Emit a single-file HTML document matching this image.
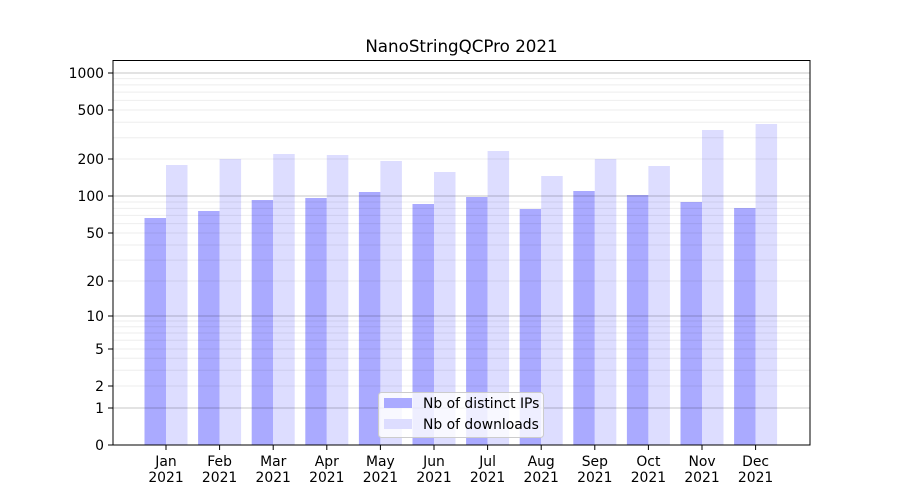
<!DOCTYPE html>
<html><head><meta charset="utf-8"><style>body{margin:0;background:#fff}svg{display:block;font-family:"DejaVu Sans","Liberation Sans",sans-serif}</style></head><body>
<svg width="900" height="500" viewBox="0 0 900 500" xmlns="http://www.w3.org/2000/svg">
<rect width="900" height="500" fill="#fff"/>
<g fill="#aaaaff">
<rect x="144.5" y="218" width="21.5" height="227"/>
<rect x="198.1" y="211" width="21.5" height="234"/>
<rect x="251.7" y="200" width="21.5" height="245"/>
<rect x="305.3" y="198" width="21.5" height="247"/>
<rect x="358.9" y="192" width="21.5" height="253"/>
<rect x="412.5" y="204" width="21.5" height="241"/>
<rect x="466.1" y="197" width="21.5" height="248"/>
<rect x="519.7" y="209" width="21.5" height="236"/>
<rect x="573.3" y="191" width="21.5" height="254"/>
<rect x="626.9" y="195" width="21.5" height="250"/>
<rect x="680.5" y="202" width="21.5" height="243"/>
<rect x="734.1" y="208" width="21.5" height="237"/>
</g>
<g fill="#ddddff">
<rect x="166" y="165" width="21.5" height="280"/>
<rect x="219.6" y="159" width="21.5" height="286"/>
<rect x="273.2" y="154" width="21.5" height="291"/>
<rect x="326.8" y="155" width="21.5" height="290"/>
<rect x="380.4" y="161" width="21.5" height="284"/>
<rect x="434" y="172" width="21.5" height="273"/>
<rect x="487.6" y="151" width="21.5" height="294"/>
<rect x="541.2" y="176" width="21.5" height="269"/>
<rect x="594.8" y="159" width="21.5" height="286"/>
<rect x="648.4" y="166" width="21.5" height="279"/>
<rect x="702" y="130" width="21.5" height="315"/>
<rect x="755.6" y="124" width="21.5" height="321"/>
</g>
<g stroke="#000" stroke-opacity="0.07" stroke-width="1">
<line x1="113" x2="810" y1="386" y2="386"/><line x1="113" x2="810" y1="349" y2="349"/>
<line x1="113" x2="810" y1="370.3" y2="370.3"/><line x1="113" x2="810" y1="358.3" y2="358.3"/>
<line x1="113" x2="810" y1="340.2" y2="340.2"/><line x1="113" x2="810" y1="333" y2="333"/>
<line x1="113" x2="810" y1="326.7" y2="326.7"/><line x1="113" x2="810" y1="321" y2="321"/>
<line x1="113" x2="810" y1="281" y2="281"/><line x1="113" x2="810" y1="233" y2="233"/>
<line x1="113" x2="810" y1="260.1" y2="260.1"/><line x1="113" x2="810" y1="245" y2="245"/>
<line x1="113" x2="810" y1="223.6" y2="223.6"/><line x1="113" x2="810" y1="215.4" y2="215.4"/>
<line x1="113" x2="810" y1="208.4" y2="208.4"/><line x1="113" x2="810" y1="202" y2="202"/>
<line x1="113" x2="810" y1="159" y2="159"/><line x1="113" x2="810" y1="110" y2="110"/>
<line x1="113" x2="810" y1="137.7" y2="137.7"/><line x1="113" x2="810" y1="122.2" y2="122.2"/>
<line x1="113" x2="810" y1="100.4" y2="100.4"/><line x1="113" x2="810" y1="92.1" y2="92.1"/>
<line x1="113" x2="810" y1="84.9" y2="84.9"/><line x1="113" x2="810" y1="78.6" y2="78.6"/>
</g>
<g stroke="#000" stroke-opacity="0.22" stroke-width="1">
<line x1="113" x2="810" y1="408" y2="408"/><line x1="113" x2="810" y1="316" y2="316"/>
<line x1="113" x2="810" y1="196" y2="196"/><line x1="113" x2="810" y1="73" y2="73"/>
</g>
<rect x="113" y="60.5" width="697" height="384.5" fill="none" stroke="#000" stroke-width="1"/>
<g stroke="#000" stroke-width="1">
<line x1="108" x2="113" y1="445" y2="445"/><line x1="108" x2="113" y1="408" y2="408"/>
<line x1="108" x2="113" y1="386" y2="386"/><line x1="108" x2="113" y1="349" y2="349"/>
<line x1="108" x2="113" y1="316" y2="316"/><line x1="108" x2="113" y1="281" y2="281"/>
<line x1="108" x2="113" y1="233" y2="233"/><line x1="108" x2="113" y1="196" y2="196"/>
<line x1="108" x2="113" y1="159" y2="159"/><line x1="108" x2="113" y1="110" y2="110"/>
<line x1="108" x2="113" y1="73" y2="73"/>
<line x1="166" x2="166" y1="445" y2="450"/><line x1="219.6" x2="219.6" y1="445" y2="450"/>
<line x1="273.2" x2="273.2" y1="445" y2="450"/><line x1="326.8" x2="326.8" y1="445" y2="450"/>
<line x1="380.4" x2="380.4" y1="445" y2="450"/><line x1="434" x2="434" y1="445" y2="450"/>
<line x1="487.6" x2="487.6" y1="445" y2="450"/><line x1="541.2" x2="541.2" y1="445" y2="450"/>
<line x1="594.8" x2="594.8" y1="445" y2="450"/><line x1="648.4" x2="648.4" y1="445" y2="450"/>
<line x1="702" x2="702" y1="445" y2="450"/><line x1="755.6" x2="755.6" y1="445" y2="450"/>
</g>
<g font-size="13.9" fill="#000" text-anchor="end">
<text x="104" y="450">0</text><text x="104" y="413">1</text><text x="104" y="391">2</text>
<text x="104" y="354">5</text><text x="104" y="321">10</text><text x="104" y="286">20</text>
<text x="104" y="238">50</text><text x="104" y="201">100</text><text x="104" y="164">200</text>
<text x="104" y="115">500</text><text x="104" y="78">1000</text>
</g>
<g font-size="13.9" fill="#000" text-anchor="middle">
<text x="166" y="466">Jan</text><text x="166" y="482">2021</text>
<text x="219.6" y="466">Feb</text><text x="219.6" y="482">2021</text>
<text x="273.2" y="466">Mar</text><text x="273.2" y="482">2021</text>
<text x="326.8" y="466">Apr</text><text x="326.8" y="482">2021</text>
<text x="380.4" y="466">May</text><text x="380.4" y="482">2021</text>
<text x="434" y="466">Jun</text><text x="434" y="482">2021</text>
<text x="487.6" y="466">Jul</text><text x="487.6" y="482">2021</text>
<text x="541.2" y="466">Aug</text><text x="541.2" y="482">2021</text>
<text x="594.8" y="466">Sep</text><text x="594.8" y="482">2021</text>
<text x="648.4" y="466">Oct</text><text x="648.4" y="482">2021</text>
<text x="702" y="466">Nov</text><text x="702" y="482">2021</text>
<text x="755.6" y="466">Dec</text><text x="755.6" y="482">2021</text>
<text x="461.5" y="52" font-size="16.7">NanoStringQCPro 2021</text>
</g>
<rect x="378.5" y="392.5" width="165" height="45" rx="3" fill="#fff" fill-opacity="0.8" stroke="#ccc"/>
<rect x="384" y="398" width="28" height="10" fill="#aaaaff"/>
<rect x="384" y="419" width="28" height="10" fill="#ddddff"/>
<g font-size="13.9" fill="#000">
<text x="423" y="408">Nb of distinct IPs</text>
<text x="423" y="429">Nb of downloads</text>
</g>
</svg>
</body></html>
